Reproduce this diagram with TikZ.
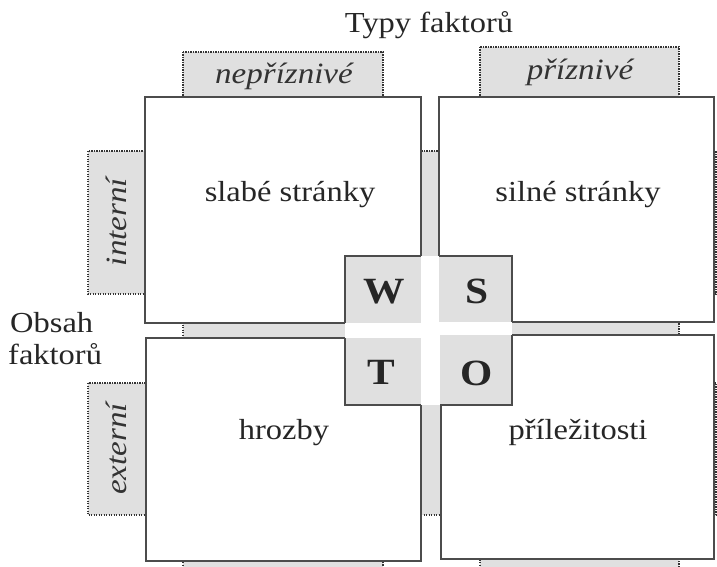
\documentclass[tikz,border=0pt]{standalone}
\usepackage{fontspec}
\setmainfont[FakeStretch=1.12]{Liberation Serif}
\begin{document}
\begin{tikzpicture}[x=1pt,y=-1pt,
  band/.style={fill=black!12, draw=black!80, line width=1.1pt, dash pattern=on 1.1pt off 1.4pt},
  qbox/.style={fill=white, draw=black!70, line width=1.3pt, inner sep=0pt, outer sep=0pt},
  sq/.style={fill=black!12},
  sqedge/.style={draw=black!70, line width=1.3pt},
  maintext/.style={font=\fontsize{29}{32}\selectfont, text=black!85},
  tag/.style={font=\fontsize{29.5}{32}\selectfont\itshape, text=black!80},
  letter/.style={font=\fontsize{37}{40}\selectfont\bfseries, text=black!85}]
\useasboundingbox (0,0) rectangle (717,567);
\clip (0,0) rectangle (717,567);
\fill[white] (0,0) rectangle (717,567);
% grey bands behind the boxes
\path[band] (183,52) rectangle (383,600);
\path[band] (480,47) rectangle (679,600);
\path[band] (88,151) rectangle (716,294);
\path[band] (88,383) rectangle (716,515);
% band labels
\node[tag] (nep) at (284,76) {nepříznivé};
\node[tag] (pri) at (580,72) {příznivé};
\node[tag, rotate=90] (int) at (116,222) {interní};
\node[tag, rotate=90] (ext) at (116,449) {externí};
% quadrant boxes
\node[qbox, minimum width=276pt, minimum height=226pt] (tl) at (283,210) {};
\node[qbox, minimum width=275pt, minimum height=225pt] (tr) at (576.5,209.5) {};
\node[qbox, minimum width=275pt, minimum height=223pt] (bl) at (283.5,449.5) {};
\node[qbox, minimum width=273pt, minimum height=224pt] (br) at (577.5,447) {};
% central SWOT element
\fill[white] (345,256) rectangle (512,405);
\fill[sq] (345,256) rectangle (421,323);
\fill[sq] (439,256) rectangle (512,322);
\fill[sq] (345,338) rectangle (421,405);
\fill[sq] (440,335) rectangle (512,405);
\draw[sqedge] (345,323) -- (345,256) -- (421,256);
\draw[sqedge] (439,256) -- (512,256) -- (512,322);
\draw[sqedge] (345,338) -- (345,405) -- (421,405);
\draw[sqedge] (512,335) -- (512,405) -- (440,405);
\node[letter] (w) at (384,292) {W};
\node[letter] (s) at (477,291) {S};
\node[letter] (t) at (381,372) {T};
\node[letter] (o) at (477,373) {O};
% texts in boxes
\node[maintext] (slabe) at (290,195) {slabé stránky};
\node[maintext] (silne) at (578,195) {silné stránky};
\node[maintext] (hrozby) at (284,433) {hrozby};
\node[maintext] (prilez) at (578,432) {příležitosti};
% headings
\node[maintext, anchor=base] (typy) at (429,33) {Typy faktorů};
\node[maintext, anchor=base west, inner sep=0pt] (obsah) at (10,332) {Obsah};
\node[maintext, anchor=base west, inner sep=0pt] (fakt) at (8,364) {faktorů};
\end{tikzpicture}
\end{document}
